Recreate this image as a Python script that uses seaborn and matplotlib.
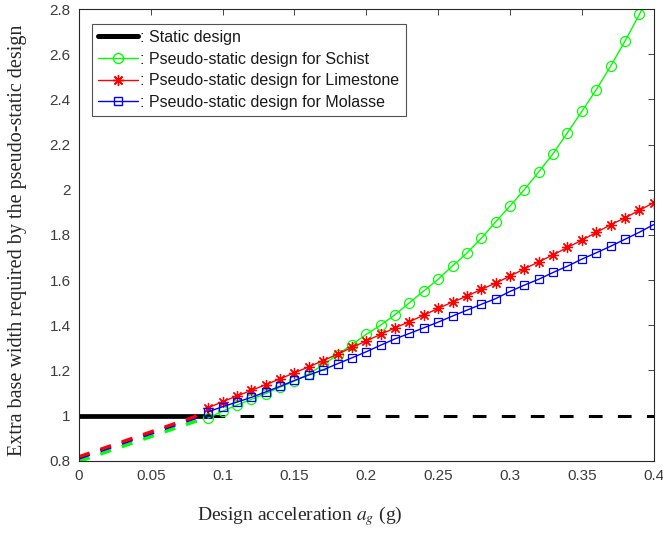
import matplotlib
matplotlib.use("Agg")
import matplotlib.pyplot as plt
from matplotlib.lines import Line2D
import seaborn as sns
import pandas as pd

# ---------------- data ----------------
x_low = [0.00, 0.01, 0.02, 0.03, 0.04, 0.05, 0.06, 0.07, 0.08, 0.09]
schist_low = [0.797, 0.819, 0.841, 0.863, 0.885, 0.907, 0.929, 0.951, 0.972, 0.990]
limestone_low = [0.818, 0.840, 0.862, 0.884, 0.906, 0.928, 0.950, 0.972, 0.994, 1.035]
molasse_low = [0.812, 0.834, 0.856, 0.878, 0.900, 0.922, 0.944, 0.966, 0.988, 1.017]

x_high = [0.09, 0.10, 0.11, 0.12, 0.13, 0.14, 0.15, 0.16, 0.17, 0.18, 0.19,
          0.20, 0.21, 0.22, 0.23, 0.24, 0.25, 0.26, 0.27, 0.28, 0.29,
          0.30, 0.31, 0.32, 0.33, 0.34, 0.35, 0.36, 0.37, 0.38, 0.39, 0.40]
schist_high = [0.990, 1.020, 1.047, 1.072, 1.098, 1.126, 1.153, 1.185, 1.225, 1.270, 1.315,
               1.360, 1.401, 1.447, 1.500, 1.552, 1.604, 1.663, 1.720, 1.785, 1.858,
               1.928, 2.001, 2.079, 2.160, 2.253, 2.347, 2.443, 2.547, 2.658, 2.776, 2.900]
limestone_high = [1.035, 1.062, 1.087, 1.112, 1.137, 1.163, 1.190, 1.216, 1.244, 1.272, 1.302,
                  1.331, 1.360, 1.389, 1.416, 1.445, 1.475, 1.503, 1.529, 1.559, 1.587,
                  1.618, 1.650, 1.681, 1.712, 1.745, 1.777, 1.811, 1.845, 1.876, 1.909, 1.943]
molasse_high = [1.017, 1.040, 1.060, 1.081, 1.105, 1.130, 1.156, 1.180, 1.203, 1.230, 1.256,
                1.283, 1.312, 1.340, 1.364, 1.389, 1.414, 1.441, 1.467, 1.493, 1.518,
                1.550, 1.578, 1.604, 1.634, 1.662, 1.693, 1.721, 1.750, 1.781, 1.812, 1.846]

static_solid_x = [0.0, 0.092]
static_dashed_x = [0.092, 0.4]
static_value = 1.0

labels = [": Static design",
          ": Pseudo-static design for Schist",
          ": Pseudo-static design for Limestone",
          ": Pseudo-static design for Molasse"]
x_ticks = [0, 0.05, 0.1, 0.15, 0.2, 0.25, 0.3, 0.35, 0.4]
x_tick_labels = ["0", "0.05", "0.1", "0.15", "0.2", "0.25", "0.3", "0.35", "0.4"]
y_ticks = [0.8, 1.0, 1.2, 1.4, 1.6, 1.8, 2.0, 2.2, 2.4, 2.6, 2.8]
y_tick_labels = ["0.8", "1", "1.2", "1.4", "1.6", "1.8", "2", "2.2", "2.4", "2.6", "2.8"]

# ---------------- style ----------------
sns.set_theme(style="white")
plt.rcParams['font.family'] = ['Liberation Sans', 'DejaVu Sans']
plt.rcParams['mathtext.fontset'] = 'stix'

GREEN = '#00ff00'
RED = '#ff0000'
BLUE = '#0000ff'
AXC = '#262626'
DASH = (0, (3.4, 3.4))

fig = plt.figure(figsize=(6.63, 5.34), dpi=100)
ax = fig.add_axes([0.119, 0.137, 0.867, 0.846])

# static design
sns.lineplot(x=static_solid_x, y=[static_value, static_value], ax=ax,
             color='black', linewidth=3.4, estimator=None)
sns.lineplot(x=static_dashed_x, y=[static_value, static_value], ax=ax,
             color='black', linewidth=2.2, linestyle=(0, (4.5, 5.0)), estimator=None)

# dashed low portions (no markers)
for ylow, c in [(schist_low, GREEN), (molasse_low, BLUE), (limestone_low, RED)]:
    sns.lineplot(x=x_low, y=ylow, ax=ax, color=c, linewidth=2.4,
                 linestyle=DASH, estimator=None)

# solid high portions with markers
sns.lineplot(x=x_high, y=schist_high, ax=ax, color=GREEN, linewidth=1.0,
             marker='o', markersize=7.2, markerfacecolor='none',
             markeredgecolor=GREEN, markeredgewidth=0.9, estimator=None)
sns.lineplot(x=x_high, y=limestone_high, ax=ax, color=RED, linewidth=1.0,
             marker=(8, 2, 0), markersize=8, markeredgecolor=RED,
             markeredgewidth=0.9, estimator=None)
sns.lineplot(x=x_high, y=molasse_high, ax=ax, color=BLUE, linewidth=1.0,
             marker='s', markersize=6, markerfacecolor='none',
             markeredgecolor=BLUE, markeredgewidth=0.9, estimator=None)

ax.set_xlim(0, 0.4)
ax.set_ylim(0.8, 2.8)
ax.set_xticks(x_ticks)
ax.set_xticklabels(x_tick_labels)
ax.set_yticks(y_ticks)
ax.set_yticklabels(y_tick_labels)
ax.tick_params(direction='in', length=4, width=0.6, colors=AXC, labelsize=11,
               top=True, right=True, pad=6)
for lab in ax.get_xticklabels() + ax.get_yticklabels():
    lab.set_color('#3c3c3c')
for sp in ax.spines.values():
    sp.set_color(AXC)
    sp.set_linewidth(0.8)

ax.set_xlabel(r"Design acceleration $\mathit{a_g}$ (g)", fontfamily='Liberation Serif',
              fontsize=14, labelpad=13)
ax.xaxis.set_label_coords(0.384, -0.095)
ax.set_ylabel("Extra base width required by the pseudo-static design",
              fontfamily='Liberation Serif', fontsize=14.5, labelpad=12)
ax.yaxis.set_label_coords(-0.09, 0.489)

handles = [
    Line2D([], [], color='black', linewidth=3.6),
    Line2D([], [], color=GREEN, linewidth=1.0, marker='o', markersize=7.2,
           markerfacecolor='none', markeredgecolor=GREEN),
    Line2D([], [], color=RED, linewidth=1.0, marker=(8, 2, 0), markersize=8,
           markeredgecolor=RED),
    Line2D([], [], color=BLUE, linewidth=1.0, marker='s', markersize=6,
           markerfacecolor='none', markeredgecolor=BLUE),
]
leg = ax.legend(handles, labels, loc='upper left', bbox_to_anchor=(0.022, 0.968),
                borderaxespad=0, fontsize=11.5, handlelength=2.5, handletextpad=0.15,
                labelspacing=0.42, frameon=True, fancybox=False, borderpad=0.4)
leg.get_frame().set_edgecolor(AXC)
leg.get_frame().set_linewidth(0.8)
for t in leg.get_texts():
    t.set_color('#1a1a1a')

fig.savefig("out.png", dpi=100)
